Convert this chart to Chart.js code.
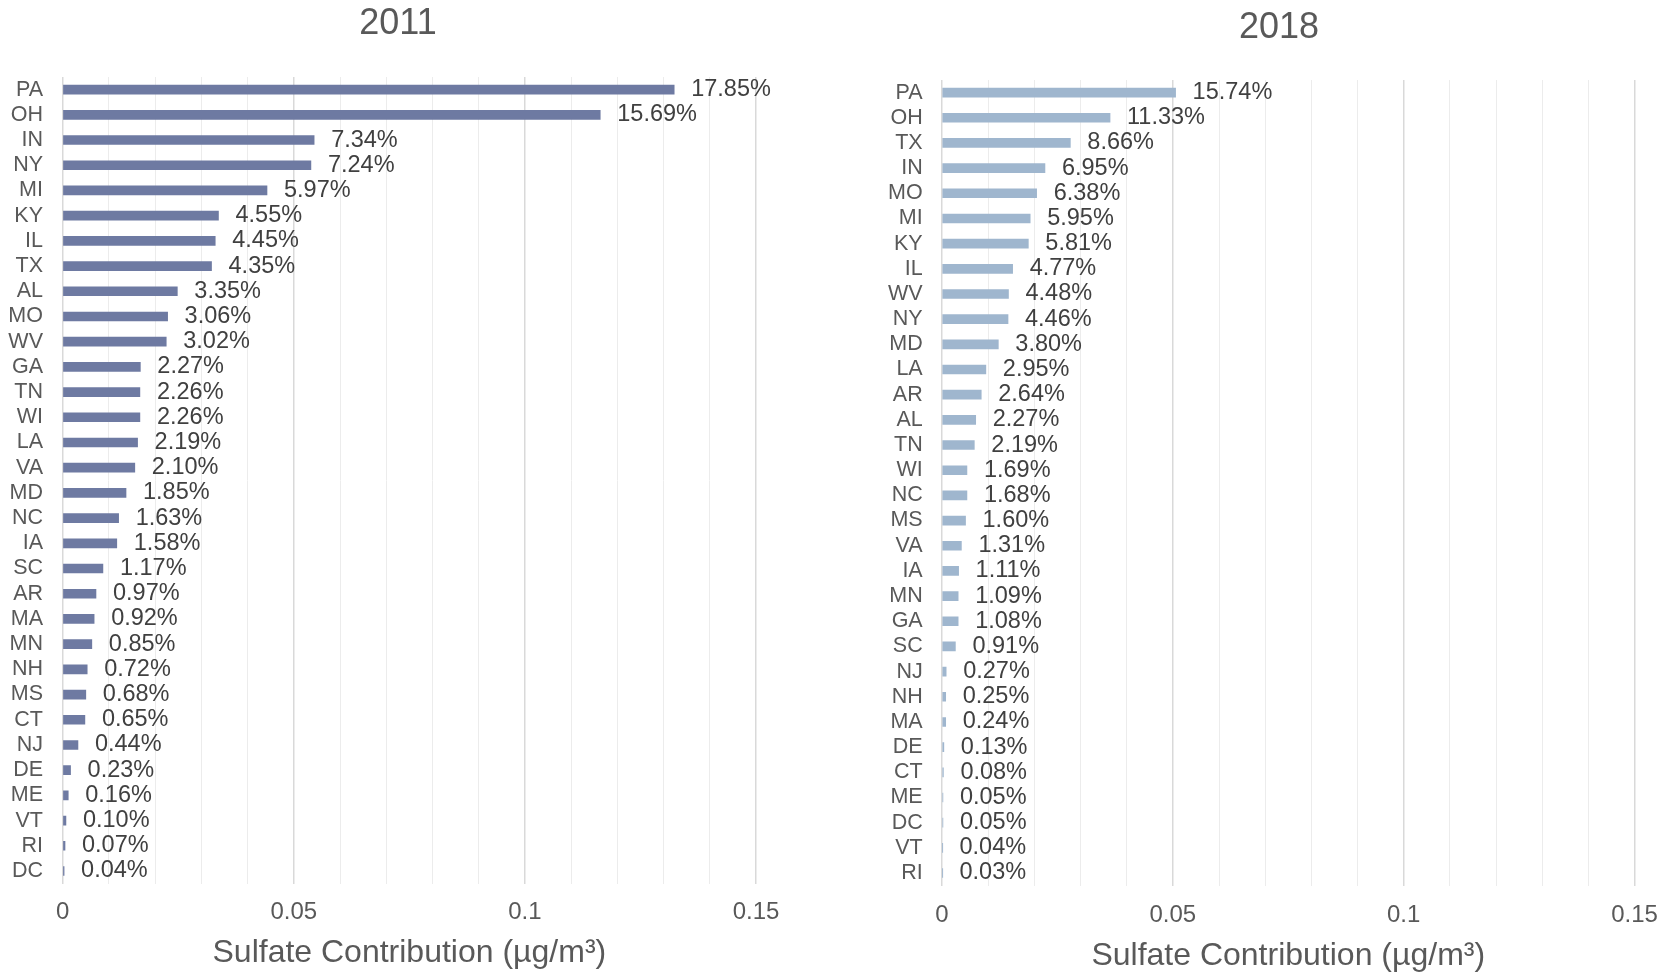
<!DOCTYPE html>
<html>
<head>
<meta charset="utf-8">
<script src="https://cdn.jsdelivr.net/npm/chart.js@4.4.1/dist/chart.umd.min.js"></script>
<style>
  body { margin: 0; background: #fff; }
  canvas { position: absolute; top: 0; }
  #chart-2011 { left: 0; }
  #chart-2018 { left: 884px; }
</style>
</head>
<body>
<canvas id="chart-2011" width="796" height="972"></canvas>
<canvas id="chart-2018" width="790" height="972"></canvas>
<script>
// 2011 - estados ordenados como en la figura
const states2011 = ["PA","OH","IN","NY","MI","KY","IL","TX","AL","MO","WV","GA","TN","WI","LA","VA","MD","NC","IA","SC","AR","MA","MN","NH","MS","CT","NJ","DE","ME","VT","RI","DC"]
const pct2011 = [17.85,15.69,7.34,7.24,5.97,4.55,4.45,4.35,3.35,3.06,3.02,2.27,2.26,2.26,2.19,2.10,1.85,1.63,1.58,1.17,0.97,0.92,0.85,0.72,0.68,0.65,0.44,0.23,0.16,0.10,0.07,0.04]
const values2011 = [0.1323,0.1163,0.0544,0.0537,0.0442,0.0337,0.0330,0.0322,0.0248,0.0227,0.0224,0.0168,0.0167,0.0167,0.0162,0.0156,0.0137,0.0121,0.0117,0.0087,0.0072,0.0068,0.0063,0.0053,0.0050,0.0048,0.0033,0.0017,0.0012,0.0007,0.0005,0.0003]

// 2018
const states2018 = ["PA","OH","TX","IN","MO","MI","KY","IL","WV","NY","MD","LA","AR","AL","TN","WI","NC","MS","VA","IA","MN","GA","SC","NJ","NH","MA","DE","CT","ME","DC","VT","RI"]
const pct2018 = [15.74,11.33,8.66,6.95,6.38,5.95,5.81,4.77,4.48,4.46,3.80,2.95,2.64,2.27,2.19,1.69,1.68,1.60,1.31,1.11,1.09,1.08,0.91,0.27,0.25,0.24,0.13,0.08,0.05,0.05,0.04,0.03]
const values2018 = [0.0506,0.0364,0.0278,0.0223,0.0205,0.0191,0.0187,0.0153,0.0144,0.0143,0.0122,0.0095,0.0085,0.0073,0.0070,0.0054,0.0054,0.0051,0.0042,0.0036,0.0035,0.0035,0.0029,0.0009,0.0008,0.0008,0.0004,0.0003,0.0002,0.0002,0.0001,0.0001]

// etiquetas del eje x
const xTickLabels = [0, 0.05, 0.1, 0.15]
const axisTitle = "Sulfate Contribution (\u00b5g/m\u00b3)"

Chart.defaults.font.family = '"Liberation Sans", Arial, sans-serif'
Chart.defaults.color = "#595959"

const isMajor = (v) => xTickLabels.some(t => Math.abs(t - v) < 1e-9)

//* plugin para poner el % al final de cada barra
function percentLabels(pcts) {
  return {
    id: "percentLabels",
    afterDatasetsDraw(chart) {
      const ctx = chart.ctx
      const meta = chart.getDatasetMeta(0)
      ctx.save()
      ctx.font = '23.5px "Liberation Sans", Arial, sans-serif'
      ctx.fillStyle = "#404040"
      ctx.textBaseline = "middle"
      ctx.textAlign = "left"
      meta.data.forEach((bar, i) => {
        ctx.fillText(pcts[i].toFixed(2) + "%", bar.x + 17, bar.y)
      })
      ctx.restore()
    }
  }
}

//* titulo (2011 / 2018) centrado donde esta en la figura original
function chartTitle(text, x, y) {
  return {
    id: "chartTitle",
    afterDraw(chart) {
      const ctx = chart.ctx
      ctx.save()
      ctx.font = '36px "Liberation Sans", Arial, sans-serif'
      ctx.fillStyle = "#595959"
      ctx.textAlign = "center"
      ctx.textBaseline = "middle"
      ctx.fillText(text, x, y)
      ctx.restore()
    }
  }
}

function makeChart(canvasId, title, states, values, pcts, color, lay) {
  const ctx = document.querySelector(canvasId).getContext("2d")
  return new Chart(ctx, {
    type: "bar",
    data: {
      labels: states,
      datasets: [{
        data: values,
        backgroundColor: color,
        barThickness: 9
      }]
    },
    options: {
      indexAxis: "y",
      responsive: false,
      animation: false,
      layout: { padding: { left: 0, right: lay.padRight, top: lay.top, bottom: 0 } },
      plugins: {
        legend: { display: false },
        tooltip: { enabled: false },
        title: { display: false }
      },
      scales: {
        x: {
          min: 0,
          max: 0.15,
          border: { display: false },
          grid: {
            drawTicks: false,
            color: (c) => isMajor(c.tick.value) ? "#d9d9d9" : "#ececec",
            lineWidth: (c) => isMajor(c.tick.value) ? 1.5 : 1
          },
          ticks: {
            stepSize: 0.01,
            autoSkip: false,
            maxRotation: 0,
            padding: lay.tickPad,
            color: "#595959",
            font: { size: 24 },
            callback: (v) => isMajor(v) ? String(Number(v.toFixed(2))) : ""
          },
          title: {
            display: true,
            text: axisTitle,
            color: "#595959",
            font: { size: 32 },
            padding: { top: 0, bottom: lay.axisBottom }
          },
          afterFit: (scale) => { scale.height = lay.xHeight }
        },
        y: {
          border: { display: false },
          grid: { display: false, drawTicks: false },
          ticks: {
            autoSkip: false,
            padding: lay.yPad,
            color: "#595959",
            font: { size: 21.5 }
          },
          afterFit: (scale) => { scale.width = lay.yWidth }
        }
      }
    },
    plugins: [percentLabels(pcts), chartTitle(title, lay.titleX, lay.titleY)]
  })
}

const chart2011 = makeChart("#chart-2011", "2011", states2011, values2011, pct2011, "#6e7aa2", {
  padRight: 40, top: 77, titleX: 398, titleY: 23.6, tickPad: 14, axisBottom: 0,
  xHeight: 88.4, yPad: 19.7, yWidth: 62.7
})

const chart2018 = makeChart("#chart-2018", "2018", states2018, values2018, pct2018, "#9fb6ce", {
  padRight: 39.5, top: 80, titleX: 395, titleY: 27.6, tickPad: 15.6, axisBottom: -3,
  xHeight: 86.4, yPad: 19.3, yWidth: 58
})
</script>
</body>
</html>
